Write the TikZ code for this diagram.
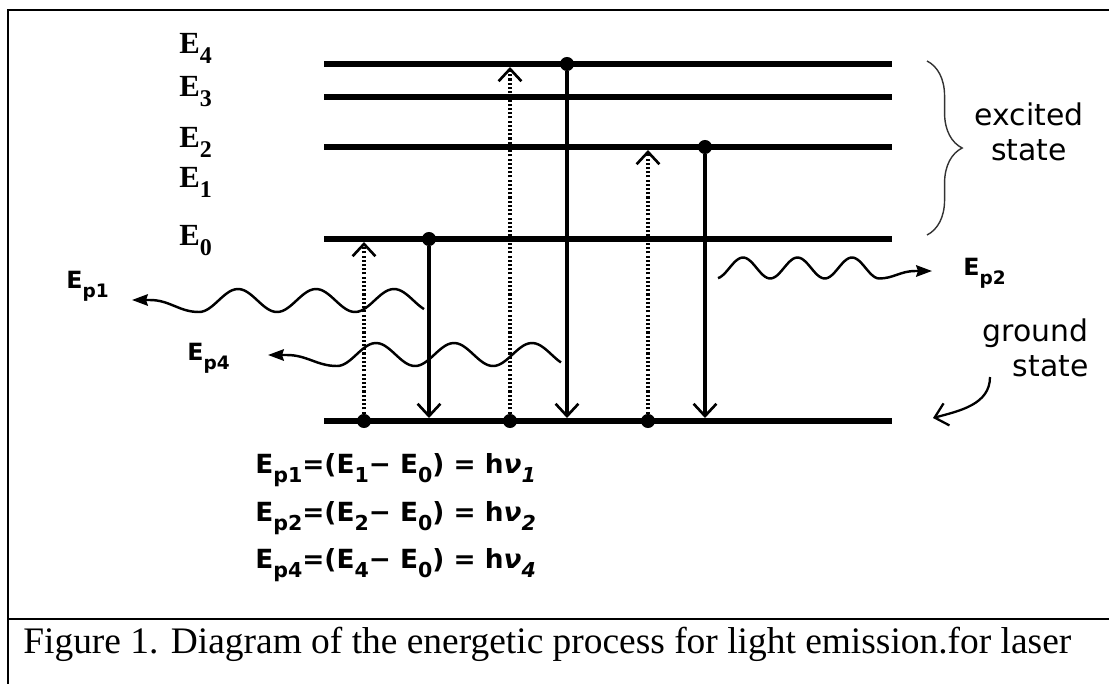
\documentclass[tikz,border=0pt]{standalone}
\usepackage{fontspec}
\setmainfont{Liberation Serif}
\setsansfont{DejaVu Sans}
\usetikzlibrary{positioning,arrows.meta,decorations.pathreplacing}

% lowered index, sized from the current font
\newcommand{\lowidx}[2][0.33em]{\raisebox{-#1}{\fontsize{\the\dimexpr 0.78\fontdimen6\font\relax}{0pt}\selectfont #2}}

\begin{document}
\begin{tikzpicture}[
	x=0.02cm,y=0.02cm,
	level/.style={
		line width=3.4pt
	},
	dot/.style={
		circle,
		fill,
		inner sep=0pt,
		minimum size=8pt
	},
	pump/.style={
		line width=1.8pt,
		dash pattern=on 1.2pt off 1.2pt,
		-{Straight Barb[length=7pt,width=13pt,line width=1.5pt]}
	},
	decay/.style={
		line width=1.8pt,
		-{Straight Barb[length=7pt,width=13pt,line width=1.5pt]}
	},
	photon/.style={
		line width=1.4pt
	},
	photontip/.tip={Stealth[length=9pt,width=6.5pt,inset=1pt]},
	elabel/.style={
		anchor=base west,
		inner sep=0pt,
		font=\fontsize{17.5}{20}\selectfont\bfseries
	},
	plabel/.style={
		anchor=base west,
		inner sep=0pt,
		font=\fontsize{13.5}{16}\selectfont\sffamily\bfseries
	},
	relation/.style={
		anchor=base west,
		inner sep=0pt,
		font=\fontsize{15}{18}\selectfont\sffamily\bfseries
	},
	state/.style={
		inner sep=0pt,
		font=\fontsize{17}{20}\selectfont\sffamily
	}
	]
	\useasboundingbox (0,0) rectangle (1109,-684);
	
	% frame
	\draw[line width=1.4pt] (1109,-10) -- (8,-10) -- (8,-684);
	\draw[line width=1.4pt] (8,-619) -- (1109,-619);
	
	% levels
	\foreach \y/\n in {64/e4,97/e3,147/e2,239/e0,421/g}
		\draw[level] (324,-\y) coordinate (\n L) -- (892,-\y) coordinate (\n R);
	
	\node[elabel] (lab4) at (179,-53) {E\lowidx{4}};
	\node[elabel] (lab3) at (179,-96) {E\lowidx{3}};
	\node[elabel] (lab2) at (179,-147) {E\lowidx{2}};
	\node[elabel] (lab1) at (179,-187) {E\lowidx{1}};
	\node[elabel] (lab0) at (179,-245) {E\lowidx{0}};
	
	% dots
	\node[dot] (g1) at (364,-421) {};
	\node[dot] (g2) at (510,-421) {};
	\node[dot] (g3) at (648,-421) {};
	\node[dot] (u1) at (429,-239) {};
	\node[dot] (u2) at (567,-64) {};
	\node[dot] (u3) at (705,-147) {};
	
	\coordinate (t1) at (364,-242);
	\coordinate (t2) at (510,-67);
	\coordinate (t3) at (648,-150);
	\coordinate (b1) at (429,-418);
	\coordinate (b2) at (567,-418);
	\coordinate (b3) at (705,-418);
	
	\draw[pump] (g1) -- (t1);
	\draw[pump] (g2) -- (t2);
	\draw[pump] (g3) -- (t3);
	\draw[decay] (u1) -- (b1);
	\draw[decay] (u2) -- (b2);
	\draw[decay] (u3) -- (b3);
	
	% photons
	\coordinate (p1tip) at (132,-300);
	\coordinate (p4tip) at (268,-355);
	\coordinate (p2tip) at (932,-271);
	\draw[photon,{photontip}-] (p1tip) -- (150,-300) to[out=0,in=180] (199,-312)
		-- plot[domain=199:424,samples=90] (\x,{-(300.5+11.5*cos((\x-199)/78*360))});
	\draw[photon,{photontip}-] (p4tip) -- (287,-355) to[out=0,in=180] (337,-366)
		-- plot[domain=337:561,samples=90] (\x,{-(354.5+11.5*cos((\x-337)/78*360))});
	\draw[photon,-{photontip}] plot[domain=718:879,samples=80] (\x,{-(268-10.5*cos((\x-743)/54.5*360))})
		to[out=0,in=180] (915,-271) -- (p2tip);
	
	\node[plabel] (ep1) at (66,-288) {E\lowidx[0.42em]{p1}};
	\node[plabel] (ep4) at (187,-360) {E\lowidx[0.42em]{p4}};
	\node[plabel] (ep2) at (963,-275) {E\lowidx[0.42em]{p2}};
	
	% states
	\draw[line width=0.8pt,black!80,decorate,decoration={brace,amplitude=20pt}]
		(927,-61) -- (927,-235);
	\node[state,align=center] (exc) at (1029,-132) {excited\\state};
	\node[state,align=right,anchor=east] (gnd) at (1089,-348) {ground\\state};
	\coordinate (gs1) at (990,-377);
	\coordinate (gs2) at (933,-418);
	\draw[line width=1.3pt,-{Straight Barb[length=7pt,width=13pt,line width=1.3pt]}]
		(gs1) to[out=-90,in=15] (gs2);
	
	% relations
	\node[relation] (f1) at (255,-473)
		{E\lowidx[0.36em]{p1}=(E\lowidx[0.36em]{1}− E\lowidx[0.36em]{0}) = h{\itshape ν\lowidx[0.36em]{1}}};
	\node[relation] (f2) at (255,-521)
		{E\lowidx[0.36em]{p2}=(E\lowidx[0.36em]{2}− E\lowidx[0.36em]{0}) = h{\itshape ν\lowidx[0.36em]{2}}};
	\node[relation] (f4) at (255,-568)
		{E\lowidx[0.36em]{p4}=(E\lowidx[0.36em]{4}− E\lowidx[0.36em]{0}) = h{\itshape ν\lowidx[0.36em]{4}}};
	
	% caption
	\node[anchor=base west,inner sep=0pt,font=\fontsize{21.3}{25}\selectfont] (cap) at (23,-653)
		{Figure 1. Diagram of the energetic process for light emission.for laser};
\end{tikzpicture}
\end{document}
